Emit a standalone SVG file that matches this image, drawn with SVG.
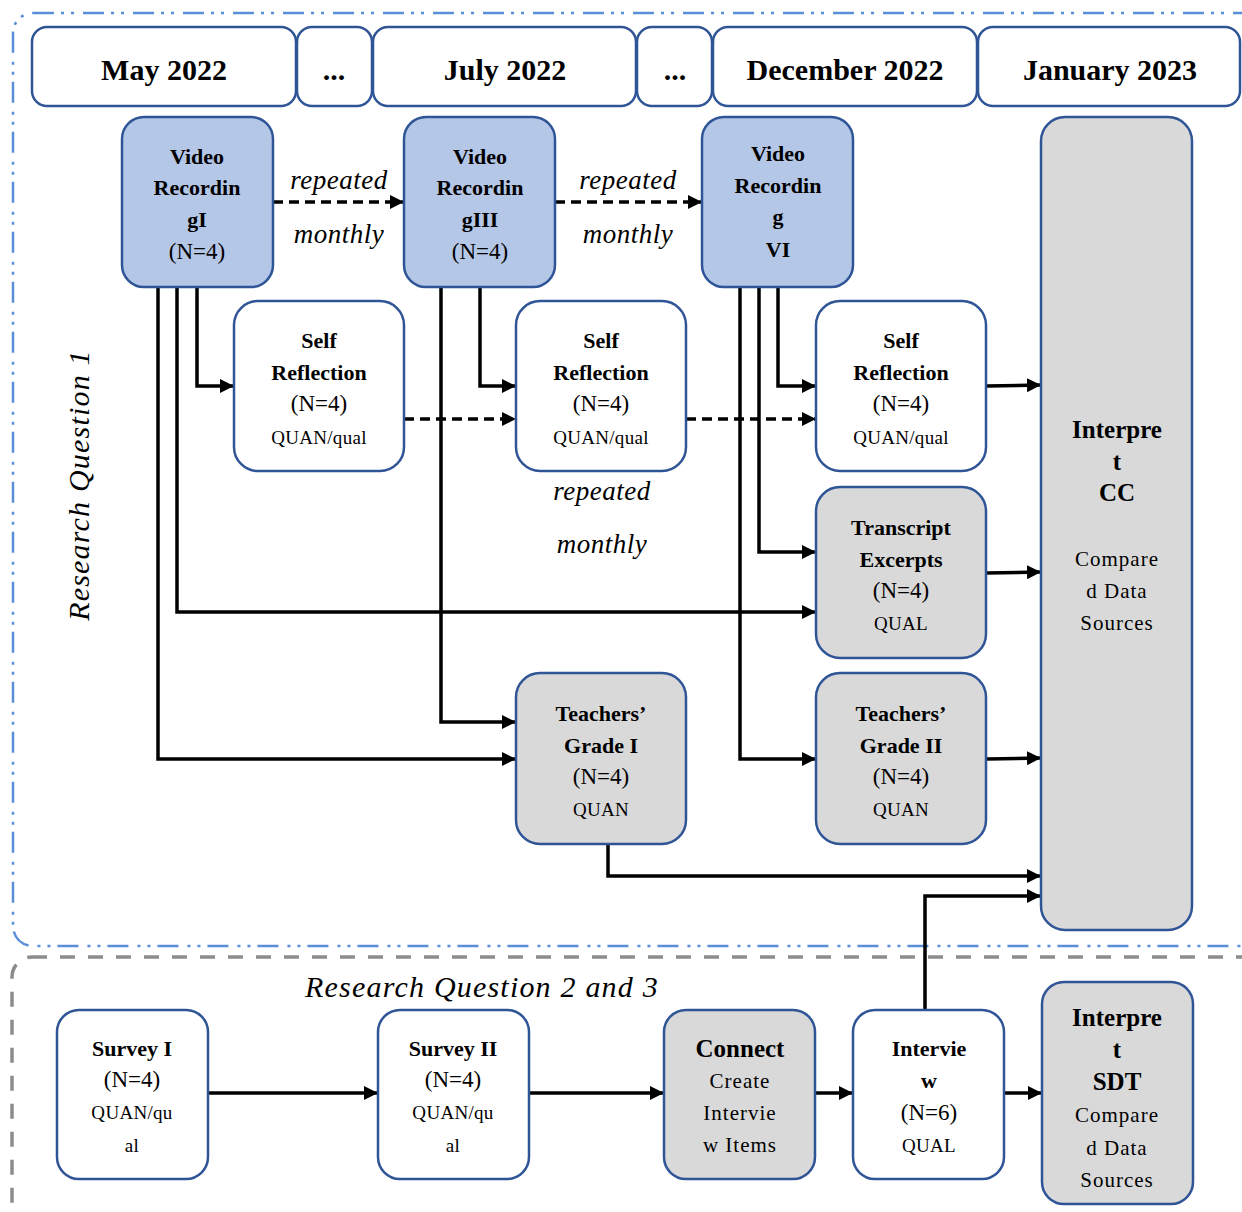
<svg xmlns="http://www.w3.org/2000/svg" width="1242" height="1212" viewBox="0 0 1242 1212">
  <style>
    text { font-family: "Liberation Serif", "Times New Roman", serif; fill: #000; text-anchor: middle; }
    .box { stroke: #2f5597; stroke-width: 2.5; }
    .white { fill: #ffffff; }
    .blue { fill: #b4c7e7; }
    .grey { fill: #d9d9d9; }
    .hdr { font-size: 30px; font-weight: bold; }
    .t { font-size: 22px; font-weight: bold; }
    .tl { font-size: 25px; font-weight: bold; }
    .n { font-size: 23px; }
    .s { font-size: 19px; letter-spacing: 0.3px; }
    .r { font-size: 21px; letter-spacing: 1px; }
    .it { font-size: 27px; font-style: italic; letter-spacing: 0.5px; }
    .rq { font-size: 30px; font-style: italic; letter-spacing: 1.2px; }
    .wire { fill: none; stroke: #000; stroke-width: 3.5; }
    .dash { stroke-dasharray: 10 6; }
  </style>
  <defs>
    <marker id="arrow" markerUnits="userSpaceOnUse" markerWidth="14" markerHeight="14" refX="14" refY="7" orient="auto">
      <path d="M0,0 L14,7 L0,14 z" fill="#000"/>
    </marker>
  </defs>

  <rect width="1242" height="1212" fill="#ffffff"/>

  <!-- region frames -->
  <g id="frames">
    <rect id="rq1-frame" x="13" y="13" width="1260" height="933" rx="20" fill="none" stroke="#5b8ed8" stroke-width="2.5" stroke-dasharray="21 7 3 7 3 9"/>
    <rect id="rq23-frame" x="12" y="957" width="1260" height="300" rx="20" fill="none" stroke="#8c8c8c" stroke-width="3.5" stroke-dasharray="15 13"/>
    <text class="rq" transform="translate(89,485) rotate(-90)">Research Question 1</text>
    <text class="rq" x="482" y="997">Research Question 2 and 3</text>
  </g>

  <!-- timeline header -->
  <g id="timeline">
    <g id="hdr-may"><rect class="box white" x="32" y="27" width="264" height="79" rx="15"/><text class="hdr" x="164" y="80">May 2022</text></g>
    <g id="hdr-gap1"><rect class="box white" x="297" y="27" width="75" height="79" rx="15"/><text class="hdr" x="334" y="80">...</text></g>
    <g id="hdr-jul"><rect class="box white" x="373" y="27" width="263" height="79" rx="15"/><text class="hdr" x="505" y="80">July 2022</text></g>
    <g id="hdr-gap2"><rect class="box white" x="637" y="27" width="75" height="79" rx="15"/><text class="hdr" x="675" y="80">...</text></g>
    <g id="hdr-dec"><rect class="box white" x="713" y="27" width="264" height="79" rx="15"/><text class="hdr" x="845" y="80">December 2022</text></g>
    <g id="hdr-jan"><rect class="box white" x="978" y="27" width="262" height="79" rx="15"/><text class="hdr" x="1110" y="80">January 2023</text></g>
  </g>

  <!-- connectors -->
  <g id="connectors">
    <!-- monthly repetition -->
    <path class="wire dash" d="M273,202 H404" marker-end="url(#arrow)"/>
    <path class="wire dash" d="M555,202 H702" marker-end="url(#arrow)"/>
    <path class="wire dash" d="M404,419 H516" marker-end="url(#arrow)"/>
    <path class="wire dash" d="M686,419 H816" marker-end="url(#arrow)"/>
    <!-- from Video Recording I -->
    <path class="wire" d="M158,287 V759 H516" marker-end="url(#arrow)"/>
    <path class="wire" d="M177,287 V612 H816" marker-end="url(#arrow)"/>
    <path class="wire" d="M197,287 V386 H234" marker-end="url(#arrow)"/>
    <!-- from Video Recording III -->
    <path class="wire" d="M441,287 V722 H516" marker-end="url(#arrow)"/>
    <path class="wire" d="M480,287 V386 H516" marker-end="url(#arrow)"/>
    <!-- from Video Recording VI -->
    <path class="wire" d="M740,287 V759 H816" marker-end="url(#arrow)"/>
    <path class="wire" d="M759,287 V552 H816" marker-end="url(#arrow)"/>
    <path class="wire" d="M778,287 V386 H816" marker-end="url(#arrow)"/>
    <!-- into Interpret CC -->
    <path class="wire" d="M986,386 L1041,385" marker-end="url(#arrow)"/>
    <path class="wire" d="M986,573 L1041,572" marker-end="url(#arrow)"/>
    <path class="wire" d="M986,759 L1041,758" marker-end="url(#arrow)"/>
    <path class="wire" d="M608,844 V876 H1041" marker-end="url(#arrow)"/>
    <path class="wire" d="M925,1010 V896 H1041" marker-end="url(#arrow)"/>
    <!-- research questions 2 and 3 chain -->
    <path class="wire" d="M208,1093 H378" marker-end="url(#arrow)"/>
    <path class="wire" d="M529,1093 H664" marker-end="url(#arrow)"/>
    <path class="wire" d="M815,1093 H853" marker-end="url(#arrow)"/>
    <path class="wire" d="M1004,1093 H1042" marker-end="url(#arrow)"/>
    <!-- labels on repetition links -->
    <text class="it" x="339" y="189">repeated</text>
    <text class="it" x="339" y="243">monthly</text>
    <text class="it" x="628" y="189">repeated</text>
    <text class="it" x="628" y="243">monthly</text>
    <text class="it" x="602" y="500">repeated</text>
    <text class="it" x="602" y="553">monthly</text>
  </g>

  <!-- video recordings -->
  <g id="video-1">
    <rect class="box blue" x="122" y="117" width="151" height="170" rx="22"/>
    <text class="t" x="197" y="164">Video</text>
    <text class="t" x="197" y="195">Recordin</text>
    <text class="t" x="197" y="227">gI</text>
    <text class="n" x="197" y="259">(N=4)</text>
  </g>
  <g id="video-3">
    <rect class="box blue" x="404" y="117" width="151" height="170" rx="22"/>
    <text class="t" x="480" y="164">Video</text>
    <text class="t" x="480" y="195">Recordin</text>
    <text class="t" x="480" y="227">gIII</text>
    <text class="n" x="480" y="259">(N=4)</text>
  </g>
  <g id="video-6">
    <rect class="box blue" x="702" y="117" width="151" height="170" rx="22"/>
    <text class="t" x="778" y="161">Video</text>
    <text class="t" x="778" y="193">Recordin</text>
    <text class="t" x="778" y="224">g</text>
    <text class="t" x="778" y="257">VI</text>
  </g>

  <!-- self reflections -->
  <g id="reflection-1">
    <rect class="box white" x="234" y="301" width="170" height="170" rx="24"/>
    <text class="t" x="319" y="348">Self</text>
    <text class="t" x="319" y="380">Reflection</text>
    <text class="n" x="319" y="411">(N=4)</text>
    <text class="s" x="319" y="444">QUAN/qual</text>
  </g>
  <g id="reflection-2">
    <rect class="box white" x="516" y="301" width="170" height="170" rx="24"/>
    <text class="t" x="601" y="348">Self</text>
    <text class="t" x="601" y="380">Reflection</text>
    <text class="n" x="601" y="411">(N=4)</text>
    <text class="s" x="601" y="444">QUAN/qual</text>
  </g>
  <g id="reflection-3">
    <rect class="box white" x="816" y="301" width="170" height="170" rx="24"/>
    <text class="t" x="901" y="348">Self</text>
    <text class="t" x="901" y="380">Reflection</text>
    <text class="n" x="901" y="411">(N=4)</text>
    <text class="s" x="901" y="444">QUAN/qual</text>
  </g>

  <!-- transcript excerpts -->
  <g id="transcript">
    <rect class="box grey" x="816" y="487" width="170" height="171" rx="24"/>
    <text class="t" x="901" y="535">Transcript</text>
    <text class="t" x="901" y="567">Excerpts</text>
    <text class="n" x="901" y="598">(N=4)</text>
    <text class="s" x="901" y="630">QUAL</text>
  </g>

  <!-- teachers' grades -->
  <g id="grade-1">
    <rect class="box grey" x="516" y="673" width="170" height="171" rx="24"/>
    <text class="t" x="601" y="721">Teachers’</text>
    <text class="t" x="601" y="753">Grade I</text>
    <text class="n" x="601" y="784">(N=4)</text>
    <text class="s" x="601" y="816">QUAN</text>
  </g>
  <g id="grade-2">
    <rect class="box grey" x="816" y="673" width="170" height="171" rx="24"/>
    <text class="t" x="901" y="721">Teachers’</text>
    <text class="t" x="901" y="753">Grade II</text>
    <text class="n" x="901" y="784">(N=4)</text>
    <text class="s" x="901" y="816">QUAN</text>
  </g>

  <!-- interpret CC -->
  <g id="interpret-cc">
    <rect class="box grey" x="1041" y="117" width="151" height="813" rx="24"/>
    <text class="tl" x="1117" y="438">Interpre</text>
    <text class="tl" x="1117" y="470">t</text>
    <text class="tl" x="1117" y="501">CC</text>
    <text class="r" x="1117" y="566">Compare</text>
    <text class="r" x="1117" y="598">d Data</text>
    <text class="r" x="1117" y="630">Sources</text>
  </g>

  <!-- research questions 2 and 3 -->
  <g id="survey-1">
    <rect class="box white" x="57" y="1010" width="151" height="169" rx="22"/>
    <text class="t" x="132" y="1056">Survey I</text>
    <text class="n" x="132" y="1087">(N=4)</text>
    <text class="s" x="132" y="1119">QUAN/qu</text>
    <text class="s" x="132" y="1152">al</text>
  </g>
  <g id="survey-2">
    <rect class="box white" x="378" y="1010" width="151" height="169" rx="22"/>
    <text class="t" x="453" y="1056">Survey II</text>
    <text class="n" x="453" y="1087">(N=4)</text>
    <text class="s" x="453" y="1119">QUAN/qu</text>
    <text class="s" x="453" y="1152">al</text>
  </g>
  <g id="connect">
    <rect class="box grey" x="664" y="1010" width="151" height="169" rx="22"/>
    <text class="tl" x="740" y="1057">Connect</text>
    <text class="r" x="740" y="1088">Create</text>
    <text class="r" x="740" y="1120">Intervie</text>
    <text class="r" x="740" y="1152">w Items</text>
  </g>
  <g id="interview">
    <rect class="box white" x="853" y="1010" width="151" height="169" rx="22"/>
    <text class="t" x="929" y="1056">Intervie</text>
    <text class="t" x="929" y="1088">w</text>
    <text class="n" x="929" y="1120">(N=6)</text>
    <text class="s" x="929" y="1152">QUAL</text>
  </g>
  <g id="interpret-sdt">
    <rect class="box grey" x="1042" y="982" width="151" height="222" rx="22"/>
    <text class="tl" x="1117" y="1026">Interpre</text>
    <text class="tl" x="1117" y="1058">t</text>
    <text class="tl" x="1117" y="1090">SDT</text>
    <text class="r" x="1117" y="1122">Compare</text>
    <text class="r" x="1117" y="1155">d Data</text>
    <text class="r" x="1117" y="1187">Sources</text>
  </g>
</svg>
